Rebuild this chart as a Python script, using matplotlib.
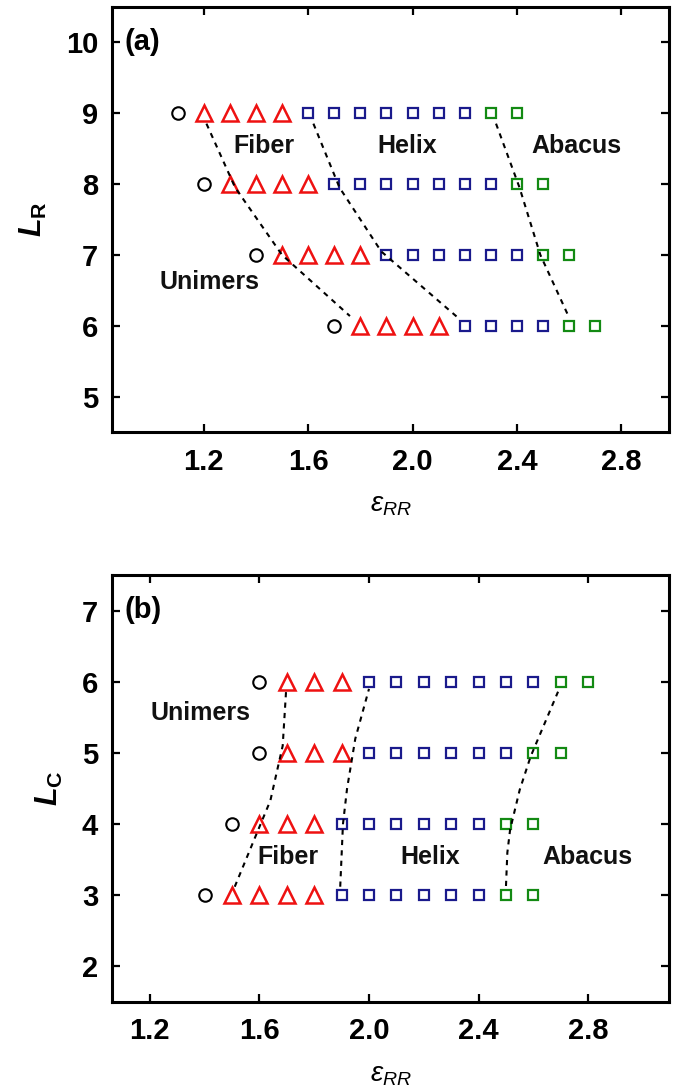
import matplotlib
matplotlib.use("Agg")
import matplotlib.pyplot as plt

plt.rcParams['font.family'] = ['Liberation Sans', 'DejaVu Sans']
plt.rcParams['mathtext.fontset'] = 'custom'
plt.rcParams['mathtext.rm'] = 'Liberation Sans:bold'
plt.rcParams['mathtext.it'] = 'Liberation Sans:italic'
plt.rcParams['mathtext.bf'] = 'Liberation Sans:bold:italic'

# ---------------- data: panel (a) ----------------
a_levels = [9, 8, 7, 6]
a_unimers = [[1.1], [1.2], [1.4], [1.7]]
a_fiber = [[1.2, 1.3, 1.4, 1.5],
           [1.3, 1.4, 1.5, 1.6],
           [1.5, 1.6, 1.7, 1.8],
           [1.8, 1.9, 2.0, 2.1]]
a_helix = [[1.6, 1.7, 1.8, 1.9, 2.0, 2.1, 2.2],
           [1.7, 1.8, 1.9, 2.0, 2.1, 2.2, 2.3],
           [1.9, 2.0, 2.1, 2.2, 2.3, 2.4],
           [2.2, 2.3, 2.4, 2.5]]
a_abacus = [[2.3, 2.4], [2.4, 2.5], [2.5, 2.6], [2.6, 2.7]]
a_b1_x = [1.21, 1.32, 1.50, 1.76]
a_b1_y = [8.85, 7.95, 7.0, 6.14]
a_b2_x = [1.62, 1.72, 1.88, 2.17]
a_b2_y = [8.85, 7.95, 7.05, 6.13]
a_b3_x = [2.32, 2.41, 2.49, 2.60]
a_b3_y = [8.85, 7.95, 7.0, 6.12]
a_xticks = [1.2, 1.6, 2.0, 2.4, 2.8]
a_yticks = [5, 6, 7, 8, 9, 10]

# ---------------- data: panel (b) ----------------
b_levels = [6, 5, 4, 3]
b_unimers = [[1.6], [1.6], [1.5], [1.4]]
b_fiber = [[1.7, 1.8, 1.9],
           [1.7, 1.8, 1.9],
           [1.6, 1.7, 1.8],
           [1.5, 1.6, 1.7, 1.8]]
b_helix = [[2.0, 2.1, 2.2, 2.3, 2.4, 2.5, 2.6],
           [2.0, 2.1, 2.2, 2.3, 2.4, 2.5],
           [1.9, 2.0, 2.1, 2.2, 2.3, 2.4],
           [1.9, 2.0, 2.1, 2.2, 2.3, 2.4]]
b_abacus = [[2.7, 2.8], [2.6, 2.7], [2.5, 2.6], [2.5, 2.6]]
b_b1_x = [1.51, 1.585, 1.64, 1.685, 1.698]
b_b1_y = [3.12, 3.82, 4.33, 5.1, 5.91]
b_b2_x = [1.895, 1.905, 1.92, 1.95, 2.0]
b_b2_y = [3.12, 4.0, 4.5, 5.2, 5.9]
b_b3_x = [2.50, 2.505, 2.515, 2.55, 2.59, 2.69]
b_b3_y = [3.13, 3.6, 3.92, 4.48, 4.95, 5.86]
b_xticks = [1.2, 1.6, 2.0, 2.4, 2.8]
b_yticks = [2, 3, 4, 5, 6, 7]

RED = '#EE1111'
BLUE = '#1A1A8C'
GREEN = '#138A13'

W, H = 675, 1089
fig = plt.figure(figsize=(W / 100, H / 100), dpi=100)
ax_a = fig.add_axes([112 / W, 1 - 432.5 / H, 557 / W, 426 / H])
ax_b = fig.add_axes([112 / W, 1 - 1002 / H, 557 / W, 427 / H])


def draw(ax, levels, uni, fib, hel, aba, bounds, labels, xlim, ylim,
         xticks, yticks, ylabel, tag):
    for lvl, u, f, h, a in zip(levels, uni, fib, hel, aba):
        ax.plot(u, [lvl] * len(u), ls='none', marker='o', ms=9,
                mfc='none', mec='black', mew=1.5)
        ax.plot(f, [lvl] * len(f), ls='none', marker='^', ms=11,
                mfc='none', mec=RED, mew=1.8)
        ax.plot(h, [lvl] * len(h), ls='none', marker='s', ms=7.5,
                mfc='none', mec=BLUE, mew=1.6)
        ax.plot(a, [lvl] * len(a), ls='none', marker='s', ms=7.5,
                mfc='none', mec=GREEN, mew=1.6)
    for bx, by in bounds:
        ax.plot(bx, by, color='black', lw=1.5, ls=(0, (2.5, 2.5)))
    for txt, x, y in labels:
        ax.text(x, y, txt, ha='center', va='center', fontsize=18,
                fontweight='bold', color='#111111')
    ax.set_xlim(*xlim)
    ax.set_ylim(*ylim)
    ax.set_xticks(xticks)
    ax.set_xticklabels([f'{v:.1f}' for v in xticks])
    ax.set_yticks(yticks)
    ax.set_yticklabels([str(v) for v in yticks])
    ax.tick_params(axis='both', which='major', direction='in', length=6,
                   width=1.6, top=True, right=True, labelsize=21)
    ax.tick_params(axis='x', pad=11)
    ax.tick_params(axis='y', pad=10)
    for lab in ax.get_xticklabels() + ax.get_yticklabels():
        lab.set_fontweight('bold')
    for sp in ax.spines.values():
        sp.set_linewidth(2.2)
    ax.set_xlabel(r'$\varepsilon_{RR}$', fontsize=20, labelpad=12)
    ax.set_ylabel(ylabel, fontsize=22, labelpad=12)
    ax.text(0.023, tag[1], tag[0], transform=ax.transAxes, ha='left',
            va='center', fontsize=21, fontweight='bold')


draw(ax_a, a_levels, a_unimers, a_fiber, a_helix, a_abacus,
     [(a_b1_x, a_b1_y), (a_b2_x, a_b2_y), (a_b3_x, a_b3_y)],
     [('Fiber', 1.43, 8.54), ('Helix', 1.98, 8.54), ('Abacus', 2.63, 8.54),
      ('Unimers', 1.22, 6.615)],
     (0.848, 2.983), (4.5, 10.5), a_xticks, a_yticks,
     r'$\mathbf{L}_\mathrm{R}$', ('(a)', 0.917))

draw(ax_b, b_levels, b_unimers, b_fiber, b_helix, b_abacus,
     [(b_b1_x, b_b1_y), (b_b2_x, b_b2_y), (b_b3_x, b_b3_y)],
     [('Unimers', 1.386, 5.56), ('Fiber', 1.703, 3.54), ('Helix', 2.222, 3.54),
      ('Abacus', 2.797, 3.54)],
     (1.062, 3.095), (1.5, 7.5), b_xticks, b_yticks,
     r'$\mathbf{L}_\mathrm{C}$', ('(b)', 0.917))

fig.savefig('out.png', dpi=100)
